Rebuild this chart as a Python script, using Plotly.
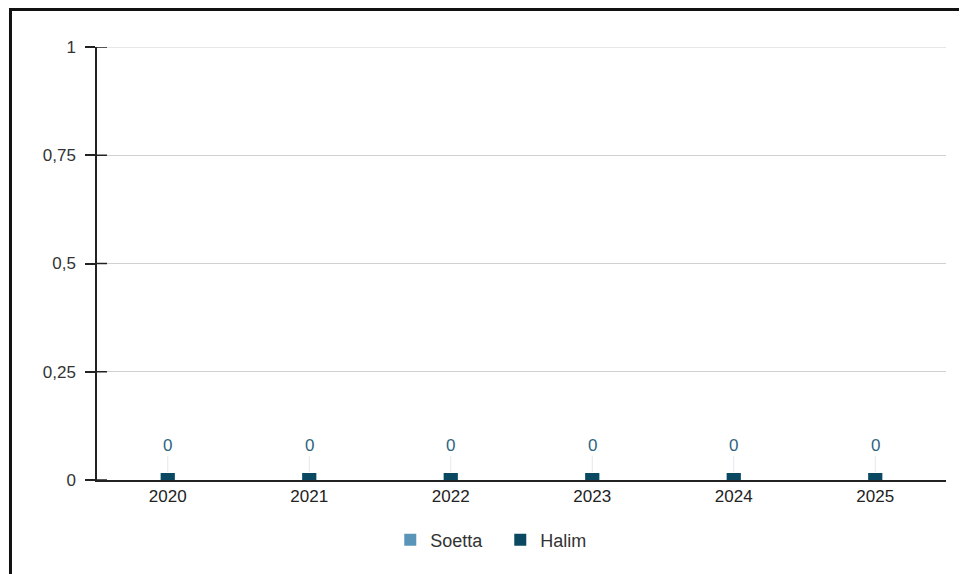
import plotly.graph_objects as go

years = ["2020", "2021", "2022", "2023", "2024", "2025"]
soetta = [0, 0, 0, 0, 0, 0]
halim = [0, 0, 0, 0, 0, 0]
y_ticks = [0, 0.25, 0.5, 0.75, 1]

SOETTA_COLOR = "#5a95b9"
HALIM_COLOR = "#0b4963"
AXIS_COLOR = "#222222"
GRID_COLOR = "#d0d0d0"
FONT = "Liberation Sans, Arial, sans-serif"

fig = go.Figure()

# zero values drawn as small square stubs sitting on the axis (clipped at y=0)
for name, vals, color in [("Soetta", soetta, SOETTA_COLOR), ("Halim", halim, HALIM_COLOR)]:
    fig.add_trace(go.Scatter(
        x=years, y=vals, name=name, mode="markers",
        marker=dict(symbol="square", size=14, color=color),
        cliponaxis=True,
    ))

# value labels above each group (index position: numeric-looking category names
# would otherwise be read as indices by the annotation code)
for i, v in enumerate(halim):
    fig.add_annotation(
        x=i, y=v, text=str(v), showarrow=True, arrowhead=0,
        arrowcolor="#e3e8ec", arrowwidth=1, ax=0, ay=-35, standoff=8,
        font=dict(family=FONT, size=17, color="#2f6582"),
    )

# plotly drops the gridline sitting on the top edge; draw it back
fig.add_shape(type="line", xref="paper", yref="y", x0=0, x1=1,
              y0=y_ticks[-1], y1=y_ticks[-1],
              line=dict(color=GRID_COLOR, width=1), layer="below")

# inner half of the y ticks (the reference ticks cross the axis line)
for t in y_ticks:
    fig.add_shape(type="line", xref="paper", yref="y", x0=0, x1=10 / 849, y0=t, y1=t,
                  line=dict(color=AXIS_COLOR, width=1.5), layer="above")

# outer frame (only left/top edges fall inside the picture)
fig.add_shape(type="rect", xref="paper", yref="paper",
              x0=-0.1019, x1=1.2, y0=-0.5, y1=1.0866,
              line=dict(color="#111111", width=3), layer="above")

fig.update_layout(
    width=959, height=566,
    margin=dict(l=89, r=21, t=39, b=94),
    paper_bgcolor="white", plot_bgcolor="white",
    separators=", ",
    font=dict(family=FONT, size=17, color="#333333"),
    showlegend=True,
    legend=dict(orientation="h", x=0.475, xanchor="center", y=-0.1386, yanchor="middle",
                itemsizing="constant", entrywidth=65,
                font=dict(size=18, color="#333333")),
    xaxis=dict(
        type="category", range=[-0.5, 5.5],
        showline=True, linecolor=AXIS_COLOR, linewidth=1.5,
        showgrid=False, ticks="", tickfont=dict(size=17, color="#222222"),
    ),
    yaxis=dict(
        range=[0, 1], tickvals=y_ticks,
        showline=True, linecolor=AXIS_COLOR, linewidth=1.5,
        ticks="outside", ticklen=10, tickcolor=AXIS_COLOR, tickwidth=1.5,
        ticklabelstandoff=6,
        showgrid=True, gridcolor=GRID_COLOR, gridwidth=1, zeroline=False,
        tickfont=dict(size=17, color="#333333"),
    ),
)

fig.write_html("out.html")
